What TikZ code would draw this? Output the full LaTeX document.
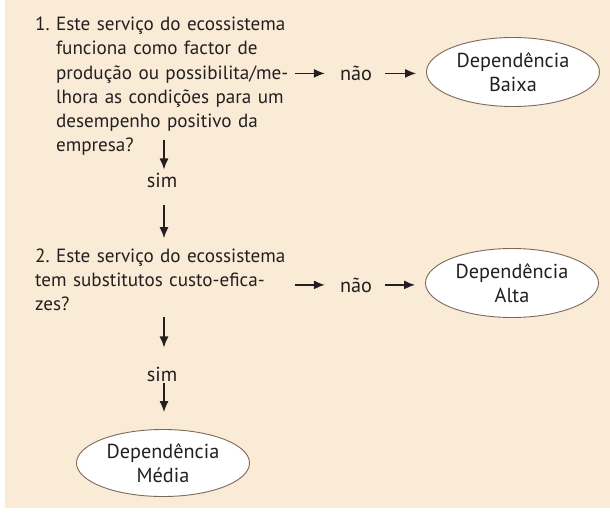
\documentclass[tikz,border=0pt]{standalone}
\usepackage{fontspec}
\setmainfont{PT Sans}
\usetikzlibrary{positioning,shapes.geometric,arrows.meta}

\definecolor{panel}{HTML}{FAEBD7}
\definecolor{ink}{HTML}{231F20}
\definecolor{rim}{HTML}{7B6A58}

\tikzset{
    arr/.style={-{Latex[length=11bp,width=9bp]}, line width=1.3bp, draw=ink},
    dep/.style={ellipse, draw=rim, fill=white, line width=0.9bp,
        minimum width=173bp, minimum height=69bp, align=center, inner sep=0pt,
        font=\fontsize{20.3}{24.3}\selectfont},
    word/.style={inner sep=0pt, anchor=base, font=\fontsize{20.3}{24.3}\selectfont},
    question/.style={anchor=base west, align=left, text width=260bp, inner sep=0pt}
}

\begin{document}
\begin{tikzpicture}[x=1bp, y=-1bp, text=ink, font=\fontsize{19.2}{24.3}\selectfont]
\frenchspacing

\useasboundingbox (0,0) rectangle (610,513);
\fill[panel] (5,0) rectangle (610,508);

% first question
\node[question] (q1) at (35,30.7) {1.~Este serviço do ecossistema\\
    \hphantom{1.~}funciona como factor de\\
    \hphantom{1.~}produção ou possibilita/me-\\
    \hphantom{1.~}lhora as condições para um\\
    \hphantom{1.~}desempenho positivo da\\
    \hphantom{1.~}empresa?};
\node[word] (no1) at (356,80.5) {não};
\node[dep] (dep1) at (513,72) {Dependência\\Baixa};
\node[word] (sim1) at (162,188) {sim};
\coordinate (d1) at (164,140);

% second question
\node[question] (q2) at (35,262) {2. Este serviço do ecossistema\\
    tem substitutos custo-efica-\\
    zes?};
\node[word] (no2) at (356,292) {não};
\node[dep] (dep2) at (512,283) {Dependência\\Alta};
\node[word] (sim2) at (162,381.5) {sim};
\node[dep, minimum height=67bp] (dep3) at (163,463) {Dependência\\Média};
\coordinate (d3) at (164,317);

\draw[arr, shorten >=15bp] (q1.east |- no1) -- (no1);
\draw[arr, shorten <=13bp, shorten >=10bp] (no1.east) -- (no1.east -| dep1.west);
\draw[arr, shorten >=4bp] (d1) -- (d1 |- sim1.north);
\draw[arr, shorten <=17bp, shorten >=10bp] (sim1.south -| d1) -- (d1 |- q2.north);

\draw[arr, shorten >=15bp] (q2.east |- no2) -- (no2);
\draw[arr, shorten <=13bp, shorten >=10bp] (no2.east) -- (no2.east -| dep2.west);
\draw[arr, shorten >=19.5bp] (d3) -- (d3 |- sim2.north);
\draw[arr, shorten <=1.5bp, shorten >=17bp] (sim2.south -| d3) -- (d3 |- dep3.north);

\end{tikzpicture}
\end{document}
